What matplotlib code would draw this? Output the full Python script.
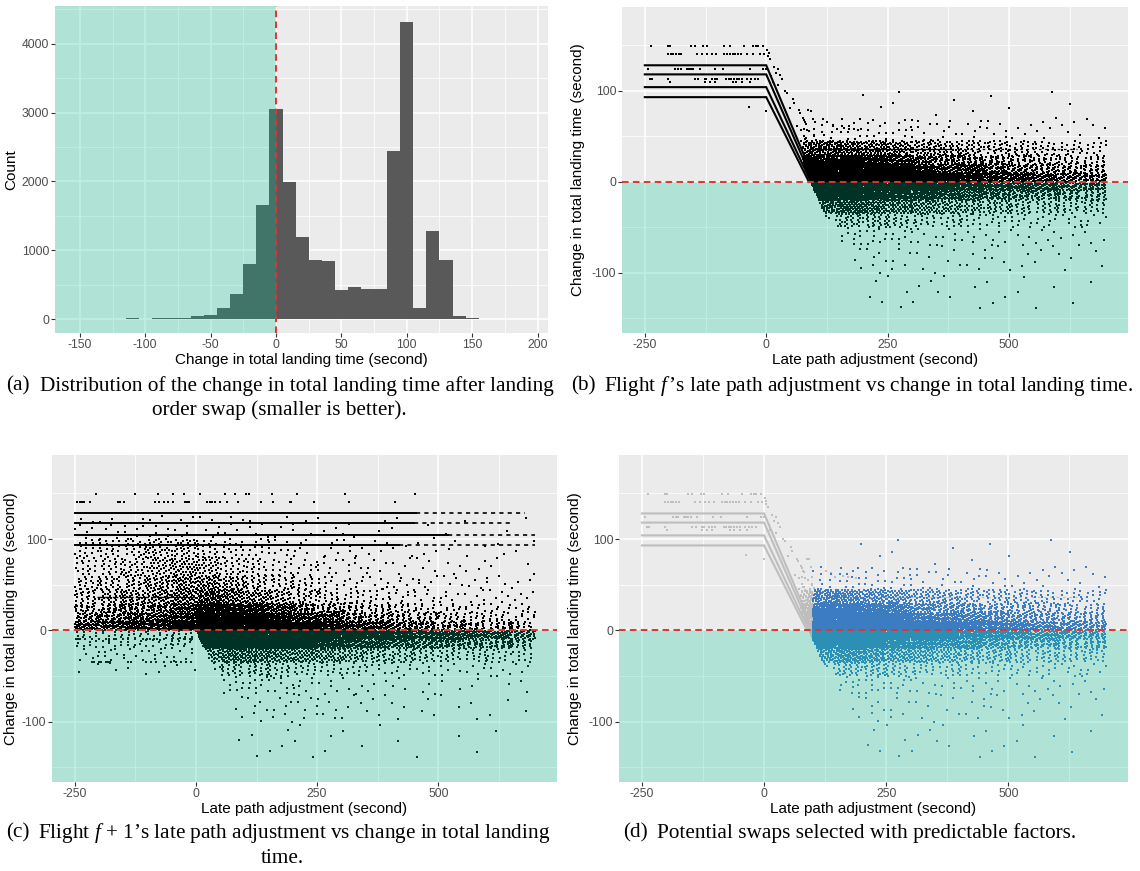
import numpy as np
import matplotlib
matplotlib.use("Agg")
import matplotlib.pyplot as plt

plt.rcParams['font.family'] = ['Liberation Sans', 'DejaVu Sans']
plt.rcParams['mathtext.fontset'] = 'custom'
plt.rcParams['mathtext.rm'] = 'Liberation Serif'
plt.rcParams['mathtext.it'] = 'Liberation Serif:italic'

# ---------------- (a) histogram ----------------
hist_centers = [-110, -100, -90, -80, -70, -60, -50, -40, -30, -20, -10, 0, 10, 20, 30,
                40, 50, 60, 70, 80, 90, 100, 110, 120, 130, 140, 150]
hist_counts = [20, 0, 10, 15, 20, 40, 60, 165, 360, 795, 1655, 3055, 1985, 1190, 852,
               838, 426, 465, 440, 430, 2445, 4315, 165, 1283, 852, 45, 20]

# ---------------- (b)/(d) flight f ----------------
b_levels = [128, 118, 104, 93]
b_zero_x = [101, 97, 92, 88]          # where each diagonal reaches 0
b_row_y = [149, 140, 124, 113, 109.5]
b_row_x = [
    [-238, -202, -199, -155, -147, -130, -122, -87, -74, -46, -27, -21, -16, -7],
    [-202, -197, -191, -186, -180, -175, -142, -132, -121, -112, -103, -86, -80, -75,
     -69, -64, -58, -52, -40, -27, -13, -5],
    [-243, -187, -181, -176, -164, -160, -155, -150, -137, -105, -89, -34, -7],
    [-240, -236, -202, -147, -140, -127, -123, -112, -106, -101, -82, -77, -72, -67,
     -61, -56, -50, -39, -31, -24, -17],
    [-199, -127, -116, -106, -69, -62, -50, -34],
]
b_diag_x = [2, 4.8, 3.4, 7.5, 15.7, 20.5, 24, 28, 32.7, 10, 13, 24, 39, 42.4, 54.7, 58, 49,
            68, 70, 87, 75, 78.6, 82, 63.6, 72, 84, 89, 77, 82, 72, 99, 102, 126, 137, 146,
            161, 171, 188, 207, -36, 0, 0]
b_diag_y = [145, 142, 138.7, 134.7, 126, 120, 123.7, 117.5, 113, 115.7, 110, 106.5, 100,
            97.4, 90.9, 86.5, 81, 78.4, 76, 78.4, 70, 68.2, 63.5, 61, 57.3, 57.3, 55.5,
            50.7, 48, 45, 50, 46.3, 65.3, 62.8, 58, 59, 58.4, 57.3, 50.7, 82.5, 78, 123.7]
b_hline_y = [36, 11]
b_hline_solid = [(93, 380), (100, 330)]
b_hline_dash = [(380, 640), (330, 560)]
b_edge_y = [-100, 0, 128]
b_edge_x = [172, 92, 0]
b_xedges = [75, 150, 200, 250, 300, 350, 400, 450, 500, 550, 600, 650, 700]
b_yedges = [-140, -100, -70, -50, -35, -20, -10, 0, 10, 20, 30, 45, 70, 100]
b_counts = [
    [0, 2, 3, 3, 3, 3, 2, 3, 2, 2, 1, 1],
    [0, 6, 6, 5, 4, 4, 4, 4, 3, 3, 3, 2],
    [2, 10, 9, 8, 6, 5, 5, 5, 4, 4, 3, 3],
    [15, 30, 26, 21, 17, 14, 12, 10, 9, 8, 7, 6],
    [120, 95, 78, 62, 50, 42, 36, 30, 26, 22, 20, 18],
    [250, 140, 115, 90, 70, 58, 50, 42, 36, 32, 28, 25],
    [450, 280, 220, 165, 125, 100, 85, 70, 60, 52, 45, 38],
    [480, 300, 240, 180, 130, 105, 90, 75, 62, 52, 45, 38],
    [260, 170, 135, 100, 75, 60, 52, 42, 36, 30, 27, 24],
    [160, 100, 80, 60, 45, 38, 32, 27, 23, 19, 16, 14],
    [120, 70, 58, 48, 38, 32, 28, 24, 20, 17, 14, 12],
    [14, 12, 10, 9, 8, 7, 7, 6, 5, 5, 4, 4],
    [1, 1, 1, 2, 1, 1, 1, 1, 1, 1, 1, 0],
]
d_select_min_x = 100

# ---------------- (c) flight f+1 ----------------
c_line_y = [128, 118, 104, 93]
c_line_solid_end = [455, 450, 520, 420]
c_line_dash_end = [680, 655, 700, 700]
c_short_y = [36.5, 10.5]
c_short_x = [(-205, 0), (-210, 0)]
c_row_y = [149.5, 140, -9, -35]
c_row_x = [
    [-207, -126, -79, -48, -24, 8, 60, 80, 103, 110, 156, 208, 308, 453],
    [-245, -240, -236, -231, -219, -160, -156, -148, -85, -76, -66, -57, -47, -23, -18,
     -14, 22, 28, 33, 40, 49, 64, 86, 134, 160, 194, 196, 244, 316, 410],
    [-248, -240, -228, -215, -200, -185, -170, -150, -140, -125, -110, -95, -80, -66,
     -50, -38, -25, -12],
    [-210, -196, -186, -181, -177, -141, -134, -103, -93, -83, -66, -52, -41, -31, -21, -10],
]
c_edge_y = [-100, 0]
c_edge_x = [85, 0]
c_xedges = [-250, -200, -150, -100, -50, 0, 50, 100, 150, 200, 250, 300, 350, 400, 450,
            500, 550, 600, 650, 700]
c_yedges = [-140, -100, -70, -50, -35, -20, -10, 0, 10, 20, 30, 45, 60, 80, 100, 125]
c_counts = [
    [0, 0, 0, 0, 0, 0, 1, 2, 3, 3, 2, 2, 1, 1, 1, 1, 1, 1, 0],
    [0, 0, 0, 0, 0, 1, 5, 6, 7, 7, 5, 4, 4, 3, 3, 2, 2, 2, 1],
    [0, 0, 0, 0, 0, 3, 9, 9, 8, 7, 5, 4, 3, 3, 3, 2, 2, 2, 2],
    [2, 2, 2, 2, 2, 12, 22, 22, 18, 16, 12, 10, 8, 7, 6, 5, 5, 4, 3],
    [6, 6, 6, 6, 6, 45, 70, 66, 62, 55, 44, 36, 29, 25, 21, 18, 16, 14, 11],
    [8, 8, 8, 8, 8, 105, 140, 125, 115, 100, 78, 64, 53, 46, 42, 35, 31, 28, 21],
    [10, 10, 10, 10, 12, 200, 260, 230, 210, 180, 140, 110, 95, 82, 74, 64, 56, 50, 38],
    [50, 55, 62, 75, 100, 200, 250, 230, 170, 125, 90, 65, 50, 42, 36, 30, 25, 21, 18],
    [32, 35, 42, 50, 65, 120, 140, 120, 85, 60, 45, 35, 28, 24, 20, 16, 14, 11, 9],
    [24, 27, 33, 40, 52, 85, 85, 70, 50, 35, 27, 20, 16, 13, 11, 9, 8, 7, 6],
    [24, 29, 35, 42, 55, 75, 60, 45, 32, 24, 18, 13, 10, 8, 7, 6, 5, 5, 4],
    [19, 22, 27, 35, 45, 48, 34, 24, 18, 14, 10, 8, 6, 5, 5, 4, 4, 3, 3],
    [18, 21, 27, 38, 44, 36, 24, 18, 13, 10, 8, 6, 5, 4, 4, 3, 3, 2, 2],
    [16, 18, 23, 32, 30, 20, 15, 12, 9, 7, 6, 5, 4, 3, 3, 2, 2, 2, 2],
    [8, 8, 8, 8, 8, 6, 5, 5, 4, 3, 3, 3, 2, 2, 2, 1, 1, 1, 1],
]

# ---------------- styling constants ----------------
W, H = 1140, 871
BG = '#EBEBEB'
TEAL = '#00CC99'
TEAL_A = 0.25
RED = '#E03434'
DASH = (0, (3.4, 2.2))
BAR = '#595959'
GREY_PT = '#BEBEBE'
BLUE = '#3B7DC0'
PT = 2.2
MK = 's'

G1, G2 = 0.7548776662466927, 0.5698402909980532


def spread(xedges, yedges, counts, start):
    xs, ys = [], []
    k = start
    for i in range(len(yedges) - 1):
        for j in range(len(xedges) - 1):
            n = counts[i][j]
            if n <= 0:
                continue
            idx = np.arange(k, k + n)
            k += n
            u = (0.5 + idx * G1) % 1.0
            v = (0.5 + idx * G2) % 1.0
            xs.append(xedges[j] + u * (xedges[j + 1] - xedges[j]))
            ys.append(yedges[i] + v * (yedges[i + 1] - yedges[i]))
    return np.concatenate(xs), np.concatenate(ys)


def add_ax(l, t, r, b):
    return fig.add_axes([l / W, 1 - b / H, (r - l) / W, (b - t) / H])


def style(ax, xmaj, xmin, ymaj, ymin, xlabels, ylabels, xlim, ylim):
    ax.set_facecolor(BG)
    for s in ax.spines.values():
        s.set_visible(False)
    ax.set_xticks(xmaj)
    ax.set_xticklabels(xlabels)
    ax.set_xticks(xmin, minor=True)
    ax.set_yticks(ymaj)
    ax.set_yticklabels(ylabels)
    ax.set_yticks(ymin, minor=True)
    ax.grid(which='major', color='white', lw=1.1)
    ax.grid(which='minor', color='white', lw=0.55)
    ax.set_axisbelow(True)
    ax.tick_params(which='major', length=2.6, width=0.8, color='#333333',
                   labelcolor='#4D4D4D', labelsize=8.8, pad=1.5)
    ax.tick_params(which='minor', length=0)
    ax.set_xlim(*xlim)
    ax.set_ylim(*ylim)


def pts(ax, x, y, col, z=2):
    ax.scatter(x, y, s=PT, c=col, marker=MK, linewidths=0, zorder=z)


fig = plt.figure(figsize=(W / 100, H / 100), dpi=100)
fig.patch.set_facecolor('white')

XLIM = (-297, 745)
YLIM = (-166, 192)
xm = [-250, 0, 250, 500]
xn = [-125, 125, 375, 625]
ym = [-100, 0, 100]
yn = [-150, -50, 50, 150]
xl = ['-250', '0', '250', '500']
yl = ['-100', '0', '100']
YTITLE = 'Change in total landing time (second)'
XTITLE = 'Late path adjustment (second)'

# ---------- (a) ----------
axa = add_ax(55, 6, 548, 333)
style(axa, [-150, -100, -50, 0, 50, 100, 150, 200],
      [-125, -75, -25, 25, 75, 125, 175],
      [0, 1000, 2000, 3000, 4000], [500, 1500, 2500, 3500, 4500],
      ['-150', '-100', '-50', '0', '50', '100', '150', '200'],
      ['0', '1000', '2000', '3000', '4000'], (-169, 208), (-203, 4548))
axa.bar(hist_centers, hist_counts, width=10, color=BAR, linewidth=0, zorder=2)
axa.axvspan(-1000, 0, facecolor=TEAL, alpha=TEAL_A, lw=0, zorder=3)
axa.axvline(0, color=RED, lw=1.4, ls=DASH, zorder=4)
axa.set_xlabel('Change in total landing time (second)', fontsize=11, labelpad=2)
axa.set_ylabel('Count', fontsize=11, labelpad=3)

# ---------- (b) data build ----------
bx, by = spread(b_xedges, b_yedges, b_counts, 1)
xmin_edge = np.interp(by, b_edge_y, b_edge_x)
keep = bx >= xmin_edge
bx, by = bx[keep], by[keep]
brx = np.concatenate([np.array(r, float) for r in b_row_x] + [np.array(b_diag_x, float)])
bry = np.concatenate([np.full(len(r), yv, float) for r, yv in zip(b_row_x, b_row_y)]
                     + [np.array(b_diag_y, float)])


def draw_b_lines(ax, col, lwm=1.5):
    for lv, zx in zip(b_levels, b_zero_x):
        ax.plot([-250, 0, zx], [lv, lv, 0], color=col, lw=lwm, zorder=2.5,
                solid_joinstyle='miter')
    for yv, (s0, s1), (d0, d1) in zip(b_hline_y, b_hline_solid, b_hline_dash):
        ax.plot([s0, s1], [yv, yv], color=col, lw=0.9, zorder=2.5)
        ax.plot([d0, d1], [yv, yv], color=col, lw=0.9, ls=(0, (2, 3)), zorder=2.5)


# ---------- (b) ----------
axb = add_ax(622, 7, 1128, 333)
style(axb, xm, xn, ym, yn, xl, yl, XLIM, YLIM)
pts(axb, bx, by, 'black')
pts(axb, brx, bry, 'black')
draw_b_lines(axb, 'black')
axb.axhspan(-1000, 0, facecolor=TEAL, alpha=TEAL_A, lw=0, zorder=3)
axb.axhline(0, color=RED, lw=1.4, ls=DASH, zorder=4)
axb.set_xlabel(XTITLE, fontsize=11, labelpad=2)
axb.set_ylabel(YTITLE, fontsize=11, labelpad=5)

# ---------- (c) ----------
cx, cy = spread(c_xedges, c_yedges, c_counts, 7)
c_lim = np.interp(cy, c_edge_y, c_edge_x)
keep_c = ~((cy < 0) & (cx >= 0) & (cx < c_lim))
cx, cy = cx[keep_c], cy[keep_c]
crx = np.concatenate([np.array(r, float) for r in c_row_x])
cry = np.concatenate([np.full(len(r), yv, float) for r, yv in zip(c_row_x, c_row_y)])
axc = add_ax(52, 455, 557, 782)
style(axc, xm, xn, ym, yn, xl, yl, XLIM, YLIM)
pts(axc, cx, cy, 'black')
pts(axc, crx, cry, 'black')
for yv, se, de in zip(c_line_y, c_line_solid_end, c_line_dash_end):
    axc.plot([-250, se], [yv, yv], color='black', lw=1.4, zorder=2.5)
    axc.plot([se, de], [yv, yv], color='black', lw=1.2, ls=(0, (2.5, 2.5)), zorder=2.5)
for yv, (s0, s1) in zip(c_short_y, c_short_x):
    axc.plot([s0, s1], [yv, yv], color='black', lw=1.0, ls=(0, (4, 1.5)), zorder=2.5)
axc.axhspan(-1000, 0, facecolor=TEAL, alpha=TEAL_A, lw=0, zorder=3)
axc.axhline(0, color=RED, lw=1.4, ls=DASH, zorder=4)
axc.set_xlabel(XTITLE, fontsize=11, labelpad=2)
axc.set_ylabel(YTITLE, fontsize=11, labelpad=3)

# ---------- (d) ----------
axd = add_ax(619, 455, 1128, 782)
style(axd, xm, xn, ym, yn, xl, yl, XLIM, YLIM)
sel = bx >= d_select_min_x
pts(axd, bx[~sel], by[~sel], GREY_PT)
pts(axd, brx, bry, GREY_PT)
draw_b_lines(axd, GREY_PT)
pts(axd, bx[sel], by[sel], BLUE, z=2.6)
axd.axhspan(-1000, 0, facecolor=TEAL, alpha=TEAL_A, lw=0, zorder=3)
axd.axhline(0, color=RED, lw=1.4, ls=DASH, zorder=4)
axd.set_xlabel(XTITLE, fontsize=11, labelpad=2)
axd.set_ylabel(YTITLE, fontsize=11, labelpad=5)

# ---------- captions ----------
CF = dict(fontfamily='Liberation Serif', fontsize=15.3, va='center')


def cap(x, y, s, ha='left'):
    fig.text(x / W, 1 - y / H, s, ha=ha, **CF)


cap(6, 386, '(a)')
cap(40, 386, 'Distribution of the change in total landing time after landing')
cap(279, 410, 'order swap (smaller is better).', ha='center')
cap(571, 386, '(b)')
cap(604, 386, 'Flight $f\\,$\u2019s late path adjustment vs change in total landing time.')
cap(6, 833, '(c)')
cap(38, 833, 'Flight $f$ + 1\u2019s late path adjustment vs change in total landing')
cap(282, 858, 'time.', ha='center')
cap(623, 833, '(d)')
cap(657, 833, 'Potential swaps selected with predictable factors.')

fig.savefig('out.png', dpi=100)
